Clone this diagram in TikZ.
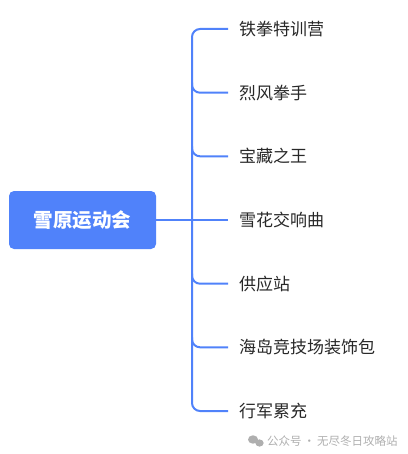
\documentclass[tikz,border=0pt]{standalone}
\usepackage{fontspec}
\newfontfamily\cjk{Noto Sans CJK SC}
\definecolor{mblue}{RGB}{80,130,250}
\definecolor{ctext}{RGB}{40,40,40}
\definecolor{wm}{RGB}{175,175,175}
\tikzset{
  rootbox/.style={fill=mblue, rounded corners=5pt, minimum width=147pt, minimum height=58pt, inner sep=0pt, text=white, font=\cjk\bfseries\fontsize{19.5}{19.5}\selectfont},
  child/.style={anchor=west, inner sep=0pt, text=ctext, font=\cjk\fontsize{17}{17}\selectfont},
  conn/.style={draw=mblue, line width=2pt, rounded corners=8pt},
}
\begin{document}
\begin{tikzpicture}[x=1pt,y=-1pt]
\useasboundingbox (0,0) rectangle (407,454);
\node[rootbox] (root) at (82.5,220) {雪原运动会};
\coordinate (j) at (192,220);
\draw[conn] (root.east) -- (j);
\foreach \name/\txt/\yy in {c1/铁拳特训营/29, c2/烈风拳手/92.7, c3/宝藏之王/156.3, c4/雪花交响曲/220, c5/供应站/283.7, c6/海岛竞技场装饰包/347.3, c7/行军累充/411}{
  \node[child] (\name) at (239,\yy) {\txt};
  \coordinate (\name e) at (228,\yy);
}
\draw[conn] (c1e) -- (192,29) -- (192,411) -- (c7e);
\foreach \name/\yy in {c2/92.7, c3/156.3, c5/283.7, c6/347.3}{
  \draw[conn] (192,\yy-10) -- (192,\yy) -- (\name e);
}
\draw[conn] (j) -- (c4e);
% watermark
\node[inner sep=0pt, anchor=west, text=wm, font=\cjk\fontsize{11.5}{11.5}\selectfont] (wmk) at (267,441) {公众号\,·\,无尽冬日攻略站};
\fill[wm] (253,439.5) ellipse (5pt and 4.2pt);
\fill[wm] (259.5,443) ellipse (4.2pt and 3.6pt);
\end{tikzpicture}
\end{document}
